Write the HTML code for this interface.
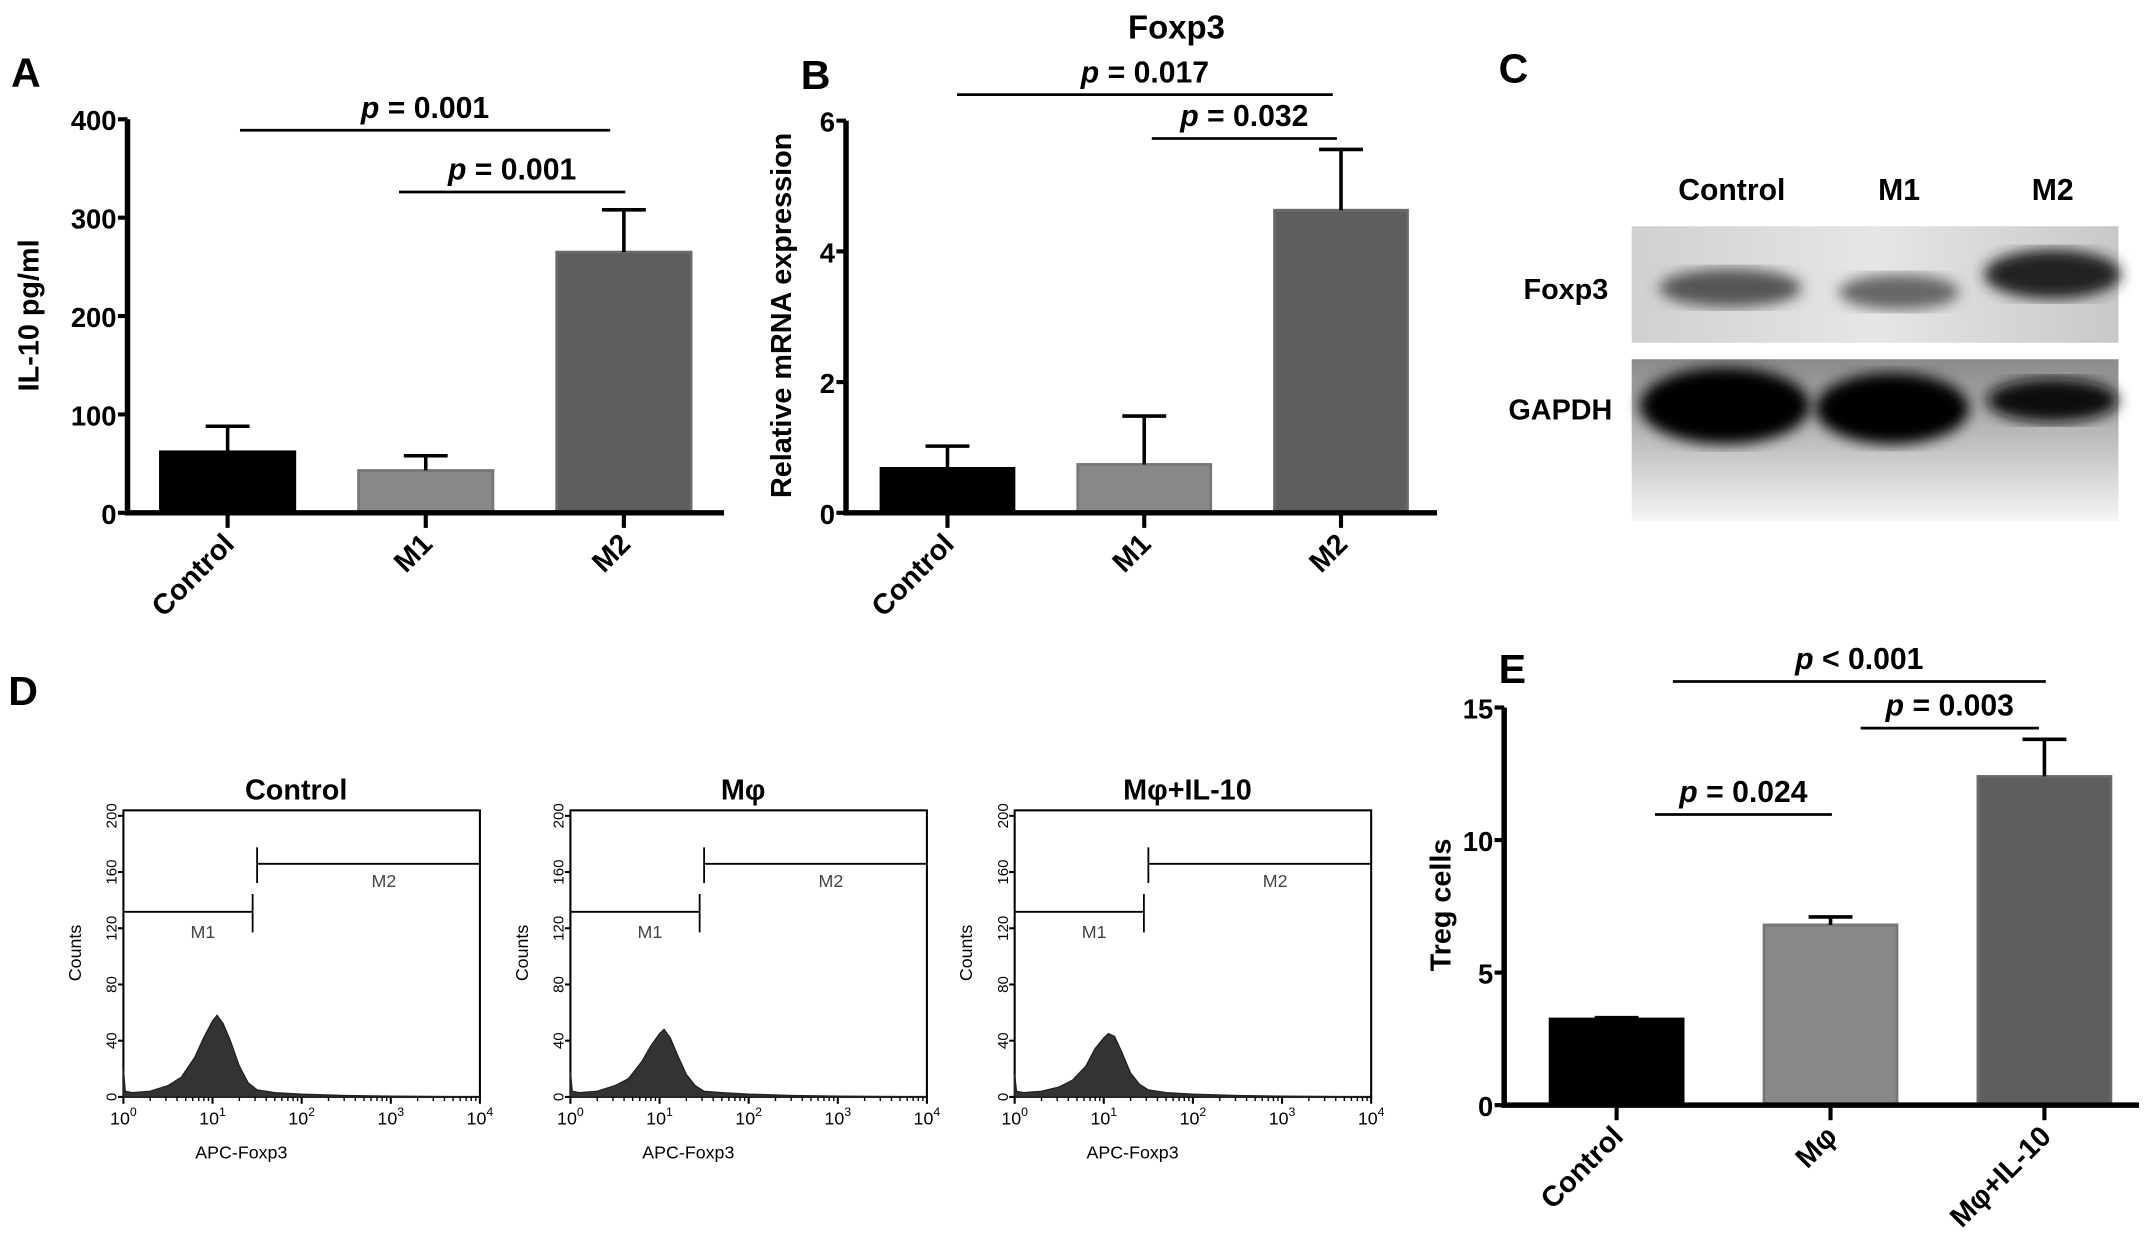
<!DOCTYPE html>
<html><head><meta charset="utf-8"><style>
html,body{margin:0;padding:0;background:#fff;}
svg{display:block;}
text{font-family:"Liberation Sans",sans-serif;}
.b{font-weight:bold;}
</style></head><body>
<svg id="fig" width="2150" height="1245" viewBox="0 0 1568 908" preserveAspectRatio="none" xmlns="http://www.w3.org/2000/svg">
<defs>
<linearGradient id="blotBg" x1="0" x2="1" y1="0" y2="0"><stop offset="0" stop-color="#d0d0d0"/><stop offset="0.5" stop-color="#e6e6e6"/><stop offset="1" stop-color="#c8c8c8"/></linearGradient>
<linearGradient id="blot2" x1="0" x2="0" y1="0" y2="1"><stop offset="0" stop-color="#8a8a8a"/><stop offset="0.6" stop-color="#c8c8c8"/><stop offset="1" stop-color="#f6f6f6"/></linearGradient>
<filter id="blur"><feGaussianBlur stdDeviation="5"/></filter>
</defs>
<g id="root"></g>
</svg>
<script>
// Panel A data
const catA = ["Control","M1","M2"];
const valA = [62, 43, 265];
const errA = [88, 58, 308];
const ticksA = [0,100,200,300,400];
// Panel B data
const catB = ["Control","M1","M2"];
const valB = [0.68, 0.74, 4.63];
const errB = [1.02, 1.48, 5.56];
const ticksB = [0,2,4,6];
// Panel E data
const catE = ["Control","Mφ","Mφ+IL-10"];
const valE = [3.25, 6.8, 12.4];
const errE = [3.3, 7.1, 13.8];
const ticksE = [0,5,10,15];
// Panel D histogram data (log10 fluorescence, counts)
const histLog = [0,0.02,0.1,0.3,0.5,0.65,0.8,0.9,1.0,1.05,1.12,1.2,1.3,1.4,1.5,1.7,2.0,2.5,3,3.5,4];
const histCtrl = [20,4,3,4,8,14,28,42,54,58,52,40,22,10,5,3,2,1,0.5,0.3,0];
const histMphi = [18,4,3,4,8,13,25,36,45,48,42,30,16,8,4,3,2,1,0.5,0.3,0];
const histIL10 = [16,4,3,4,7,12,22,34,42,45,43,32,17,9,5,3,2,1,0.5,0.3,0];
const flowTitles = ["Control","Mφ","Mφ+IL-10"];
const flowTicks = [0,40,80,120,160,200];

const NS="http://www.w3.org/2000/svg";
const root=document.getElementById('root');
function el(tag,attrs,parent,txt){const e=document.createElementNS(NS,tag);for(const k in attrs)e.setAttribute(k,attrs[k]);if(txt!==undefined)e.textContent=txt;(parent||root).appendChild(e);return e;}

function barChart(o){
  const g=el('g',{});
  
  
  const y=v=>o.y0-(v/o.max)*(o.y0-o.yTop);
  o.cats.forEach((c,i)=>{
    const cx=o.x0+o.first+i*o.step;
    const r=el('rect',{x:cx-o.bw/2,y:y(o.vals[i]),width:o.bw,height:o.y0-y(o.vals[i]),fill:o.colors[i],stroke:o.strokes[i],'stroke-width':2},g);
    
    
    const eb=el('path',{d:`M${cx} ${y(o.vals[i])} V${y(o.errs[i])} M${cx-16} ${y(o.errs[i])} H${cx+16}`,stroke:'#000','stroke-width':2.6,fill:'none'},g);
    
    
    el('line',{x1:cx,x2:cx,y1:o.y0,y2:o.y0+11,stroke:'#000','stroke-width':3},g);
    const t=el('text',{x:cx+6,y:o.y0+24,'text-anchor':'end','font-size':21,class:'b',transform:`rotate(-45 ${cx+6} ${o.y0+24})`},g,c);
    
    
  });
  const ax=el('path',{d:`M${o.x0} ${o.yTop} V${o.y0} H${o.xEnd}`,stroke:'#000','stroke-width':4,fill:'none'},g);
  
  
  o.ticks.forEach(t=>{
    el('line',{x1:o.x0-7,x2:o.x0,y1:y(t),y2:y(t),stroke:'#000','stroke-width':3},g);
    const tl=el('text',{x:o.x0-8,y:y(t)+8,'text-anchor':'end','font-size':20,class:'b'},g,t);
    
    
  });
  const yt=el('text',{x:o.ytx,y:o.yty,'text-anchor':'middle','font-size':21,class:'b',transform:`rotate(-90 ${o.ytx} ${o.yty})`},g,o.ytitle);
  
  
  o.sig.forEach(s=>{
    el('line',{x1:s[0],x2:s[1],y1:s[2],y2:s[2],stroke:'#000','stroke-width':2},g);
    const st=el('text',{x:(s[0]+s[1])/2+s[4],y:s[2]-9,'text-anchor':'middle','font-size':22,class:'b'},g);
    
    
    el('tspan',{'font-style':'italic'},st,'p');
    el('tspan',{},st,s[3]);
  });
  const L=el('text',{x:o.lx,y:o.ly,'font-size':30,class:'b'},g,o.letter);
  
  
}

barChart({name:'panel-a-il10-chart',cats:catA,vals:valA,errs:errA,ticks:ticksA,max:400,x0:93,y0:374,yTop:87,xEnd:528,first:73,step:144.5,bw:98,
 colors:['#000','#888','#5e5e5e'],strokes:['#000','#777','#6a6a6a'],ytitle:'IL-10 pg/ml',ytx:28,yty:230,
 sig:[[175,445,95,' = 0.001',0],[291,456,140,' = 0.001',0]],letter:'A',lx:8,ly:63});
barChart({name:'panel-b-foxp3-mrna-chart',cats:catB,vals:valB,errs:errB,ticks:ticksB,max:6,x0:617,y0:374,yTop:88,xEnd:1048,first:74,step:143.5,bw:97,
 colors:['#000','#888','#5e5e5e'],strokes:['#000','#777','#6a6a6a'],ytitle:'Relative mRNA expression',ytx:577,yty:230,
 sig:[[698,972,69,' = 0.017',0],[840,975,101,' = 0.032',0]],letter:'B',lx:584,ly:65});
barChart({name:'panel-e-treg-chart',cats:catE,vals:valE,errs:errE,ticks:ticksE,max:15,x0:1097,y0:806,yTop:516,xEnd:1560,first:82,step:156,bw:97,
 colors:['#000','#888','#5e5e5e'],strokes:['#000','#777','#6a6a6a'],ytitle:'Treg cells',ytx:1058,yty:660,
 sig:[[1220,1492,497,' < 0.001',0],[1357,1487,531,' = 0.003',0],[1207,1336,594,' = 0.024',0]],letter:'E',lx:1093,ly:498});

(function(){const t=el('text',{x:858,y:28,'text-anchor':'middle','font-size':24,class:'b'},root,'Foxp3');
})();

(function(){
  const g=el('g',{});
  
  
  const L=el('text',{x:1093,y:60,'font-size':30,class:'b'},g,'C');
  
  [['Control',1263],['M1',1385],['M2',1497]].forEach(l=>{
    const t=el('text',{x:l[1],y:146,'text-anchor':'middle','font-size':22,class:'b'},g,l[0]);
    
  });
  el('rect',{x:1190,y:165,width:355,height:85,fill:'url(#blotBg)'},g);
  el('rect',{x:1190,y:262,width:355,height:118,fill:'url(#blot2)'},g);
  [[1262,210,52,14,'#555'],[1385,213,44,13,'#666'],[1497,200,50,18,'#222']].forEach(b=>el('ellipse',{cx:b[0],cy:b[1],rx:b[2],ry:b[3],fill:b[4],filter:'url(#blur)'},g));
  [[1258,296,62,28,'#000'],[1380,298,56,26,'#000'],[1497,292,48,16,'#111']].forEach(b=>el('ellipse',{cx:b[0],cy:b[1],rx:b[2],ry:b[3],fill:b[4],filter:'url(#blur)'},g));
  const f=el('text',{x:1142,y:218,'text-anchor':'middle','font-size':21,class:'b'},g,'Foxp3');
  
  const h=el('text',{x:1138,y:306,'text-anchor':'middle','font-size':21,class:'b'},g,'GAPDH');
  
})();

(function(){
  const L=el('text',{x:6,y:514,'font-size':30,class:'b'},root,'D');
  
  const xs=[90,416,740];
  const data=[histCtrl,histMphi,histIL10];
  xs.forEach((x0,k)=>{
    const g=el('g',{});
    
    
    const w=260,yT=591,y0=800;
    const X=l=>x0+l/4*w, Y=c=>y0-(c/200)*(y0-yT-4);
    const t=el('text',{x:x0+w/2-4,y:583,'text-anchor':'middle','font-size':21,class:'b'},g,flowTitles[k]);
    
    el('rect',{x:x0,y:yT,width:w,height:y0-yT,fill:'none',stroke:'#000','stroke-width':1.5},g);
    let d=`M${X(histLog[0])} ${y0}`;
    histLog.forEach((l,i)=>{d+=` L${X(l).toFixed(1)} ${Y(data[k][i]).toFixed(1)}`;});
    d+=` L${X(4)} ${y0} Z`;
    const h=el('path',{d:d,fill:'#333',stroke:'#222','stroke-width':1},g);
    
    const gx1=X(1.45),gx2=X(1.5);
    el('path',{d:`M${x0} ${665} H${gx1} M${gx1} 652 V680 M${gx2} 618 V644 M${gx2} 630 H${x0+w}`,stroke:'#000','stroke-width':1.3,fill:'none'},g);
    el('text',{x:x0+58,y:684,'font-size':13,fill:'#444','text-anchor':'middle'},g,'M1');
    el('text',{x:x0+190,y:647,'font-size':13,fill:'#444','text-anchor':'middle'},g,'M2');
    flowTicks.forEach(c=>{
      el('line',{x1:x0-4,x2:x0,y1:Y(c),y2:Y(c),stroke:'#000','stroke-width':1.5},g);
      el('text',{x:x0-5,y:Y(c),'font-size':11,'text-anchor':'middle',transform:`rotate(-90 ${x0-5} ${Y(c)})`},g,c);
    });
    for(let dcd=0;dcd<=4;dcd++){
      el('line',{x1:X(dcd),x2:X(dcd),y1:y0,y2:y0+5,stroke:'#000','stroke-width':1.5},g);
      const tx=el('text',{x:X(dcd),y:y0+20,'font-size':13,'text-anchor':'middle'},g,'10');
      el('tspan',{'font-size':9,dy:-6},tx,String(dcd));
      if(dcd<4)for(let m=2;m<10;m++)el('line',{x1:X(dcd+Math.log10(m)),x2:X(dcd+Math.log10(m)),y1:y0,y2:y0+3,stroke:'#000','stroke-width':1},g);
    }
    el('text',{x:x0+w/2-44,y:y0+45,'font-size':13,'text-anchor':'middle'},g,'APC-Foxp3');
    el('text',{x:x0-31,y:695,'font-size':13,'text-anchor':'middle',transform:`rotate(-90 ${x0-31} 695)`},g,'Counts');
  });
})();
</script>
</body></html>
